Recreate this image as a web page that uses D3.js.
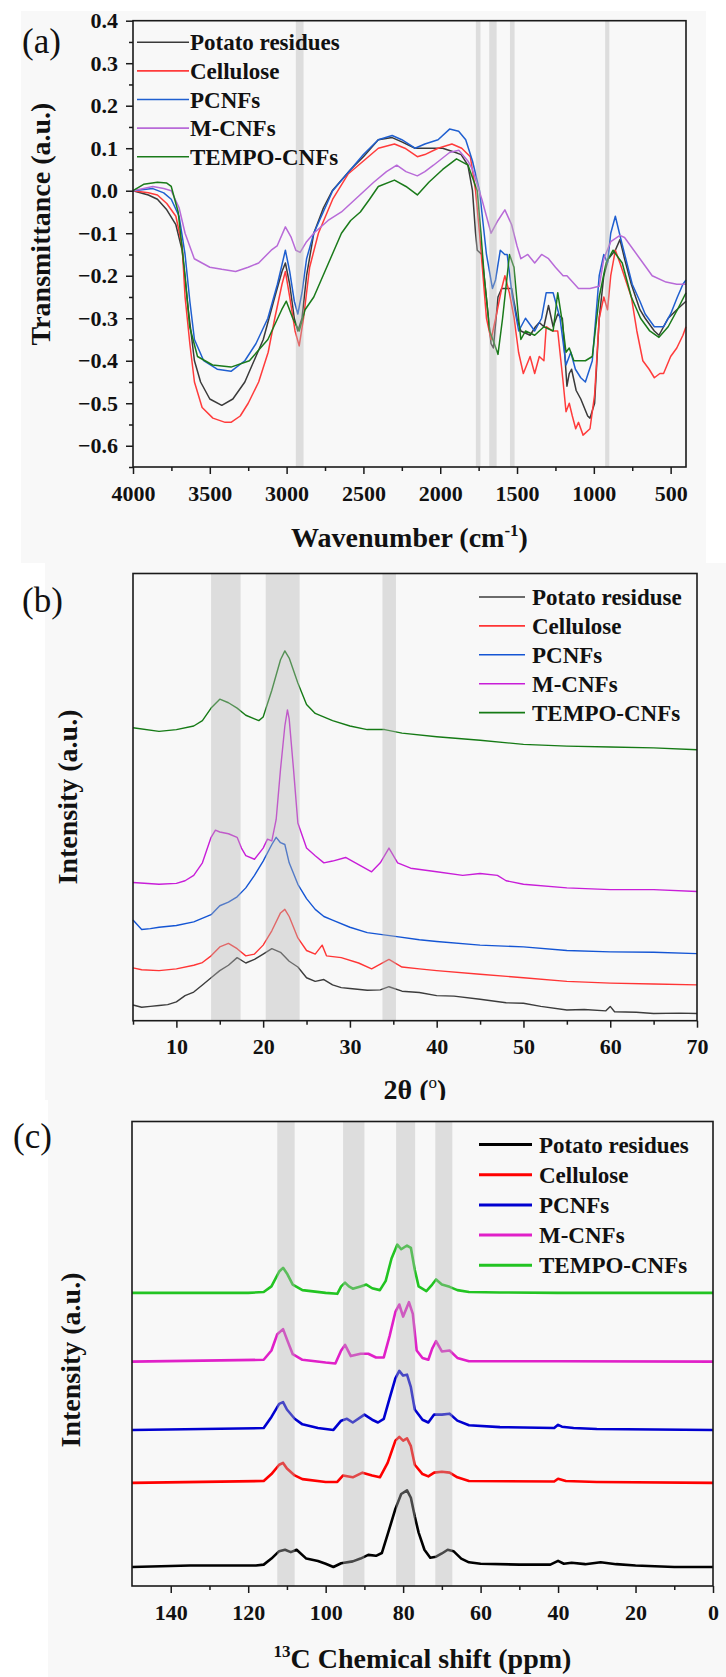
<!DOCTYPE html>
<html>
<head>
<meta charset="utf-8">
<script src="https://cdn.jsdelivr.net/npm/d3@7"></script>
<style>
  body { margin: 0; background: #fff; }
  svg { display: block; }
  text { font-family: "Liberation Serif", "Times New Roman", serif; }
</style>
</head>
<body>
<div id="chart"></div>
<script>
// legend names
var namesA = ['Potato residues', 'Cellulose', 'PCNFs', 'M-CNFs', 'TEMPO-CNFs'];
var namesB = ['Potato residuse', 'Cellulose', 'PCNFs', 'M-CNFs', 'TEMPO-CNFs'];
var namesC = ['Potato residues', 'Cellulose', 'PCNFs', 'M-CNFs', 'TEMPO-CNFs'];

// (a) FTIR, [wavenumber, transmittance]
var ftirPotato = [[4000,0],[3900,-0.01],[3841,-0.02],[3780,-0.045],[3721,-0.08],[3680,-0.14],[3640,-0.28],[3600,-0.4],[3560,-0.45],[3500,-0.49],[3422,-0.505],[3350,-0.49],[3272,-0.45],[3200,-0.39],[3152,-0.35],[3077,-0.25],[3030,-0.19],[3008,-0.17],[2980,-0.22],[2950,-0.3],[2927,-0.33],[2900,-0.3],[2870,-0.2],[2823,-0.1],[2760,-0.04],[2703,0.0],[2583,0.05],[2500,0.08],[2403,0.12],[2313,0.125],[2250,0.115],[2164,0.1],[2100,0.1],[1984,0.1],[1900,0.09],[1864,0.085],[1820,0.06],[1790,0.0],[1770,-0.1],[1759,-0.14],[1729,-0.15],[1700,-0.25],[1669,-0.36],[1654,-0.37],[1624,-0.25],[1600,-0.23],[1579,-0.23],[1535,-0.23],[1500,-0.3],[1475,-0.33],[1415,-0.34],[1380,-0.32],[1355,-0.31],[1325,-0.32],[1295,-0.27],[1265,-0.32],[1235,-0.29],[1205,-0.3],[1175,-0.46],[1160,-0.43],[1145,-0.42],[1115,-0.47],[1085,-0.49],[1040,-0.53],[1025,-0.535],[995,-0.5],[965,-0.3],[935,-0.2],[905,-0.16],[860,-0.14],[830,-0.115],[800,-0.16],[756,-0.22],[700,-0.28],[666,-0.3],[606,-0.33],[576,-0.34],[516,-0.3],[460,-0.28],[400,-0.26]];
var ftirCellulose = [[4000,0],[3900,-0.005],[3841,-0.01],[3780,-0.03],[3721,-0.06],[3680,-0.13],[3661,-0.25],[3630,-0.36],[3600,-0.45],[3550,-0.51],[3480,-0.535],[3400,-0.545],[3362,-0.545],[3302,-0.53],[3250,-0.5],[3182,-0.45],[3120,-0.38],[3077,-0.3],[3030,-0.22],[3008,-0.19],[2980,-0.25],[2945,-0.33],[2918,-0.365],[2890,-0.3],[2850,-0.18],[2793,-0.1],[2700,-0.02],[2598,0.04],[2500,0.07],[2403,0.1],[2298,0.11],[2230,0.1],[2149,0.08],[2100,0.085],[2014,0.1],[1924,0.11],[1860,0.1],[1804,0.08],[1770,0.0],[1744,-0.1],[1699,-0.3],[1669,-0.35],[1639,-0.3],[1600,-0.23],[1579,-0.2],[1550,-0.24],[1519,-0.3],[1490,-0.38],[1459,-0.43],[1415,-0.39],[1385,-0.43],[1355,-0.39],[1325,-0.4],[1310,-0.32],[1270,-0.33],[1235,-0.33],[1200,-0.45],[1181,-0.52],[1160,-0.5],[1140,-0.53],[1118,-0.56],[1100,-0.545],[1070,-0.575],[1025,-0.56],[995,-0.48],[965,-0.3],[935,-0.25],[911,-0.28],[890,-0.2],[860,-0.14],[830,-0.17],[756,-0.25],[720,-0.33],[681,-0.4],[640,-0.42],[606,-0.44],[570,-0.43],[546,-0.43],[500,-0.39],[460,-0.37],[420,-0.34],[400,-0.32]];
var ftirPCNF = [[4000,0],[3871,0.005],[3800,-0.005],[3751,-0.02],[3700,-0.06],[3661,-0.15],[3630,-0.26],[3600,-0.35],[3540,-0.4],[3452,-0.42],[3362,-0.425],[3272,-0.4],[3200,-0.36],[3122,-0.3],[3060,-0.22],[3008,-0.14],[2980,-0.19],[2950,-0.26],[2927,-0.29],[2900,-0.24],[2870,-0.16],[2823,-0.1],[2700,0.0],[2583,0.05],[2500,0.085],[2403,0.12],[2313,0.13],[2250,0.12],[2164,0.1],[2100,0.11],[2014,0.12],[1939,0.145],[1880,0.14],[1834,0.12],[1790,0.07],[1744,0.0],[1699,-0.15],[1660,-0.23],[1640,-0.21],[1609,-0.14],[1580,-0.15],[1564,-0.15],[1530,-0.25],[1489,-0.33],[1445,-0.3],[1385,-0.33],[1340,-0.3],[1310,-0.24],[1265,-0.24],[1220,-0.3],[1181,-0.41],[1150,-0.38],[1120,-0.42],[1085,-0.44],[1055,-0.45],[1010,-0.4],[965,-0.2],[935,-0.15],[911,-0.17],[890,-0.1],[860,-0.06],[820,-0.12],[750,-0.22],[700,-0.26],[666,-0.29],[606,-0.32],[546,-0.32],[500,-0.29],[456,-0.25],[420,-0.22],[400,-0.21]];
var ftirMCNF = [[4000,0],[3871,0.01],[3800,0.005],[3751,0.0],[3700,-0.04],[3661,-0.1],[3601,-0.16],[3500,-0.18],[3422,-0.185],[3332,-0.19],[3250,-0.18],[3182,-0.17],[3100,-0.14],[3062,-0.13],[3008,-0.085],[2970,-0.11],[2940,-0.14],[2912,-0.145],[2870,-0.12],[2823,-0.1],[2730,-0.07],[2643,-0.05],[2523,-0.01],[2433,0.02],[2350,0.045],[2283,0.06],[2223,0.045],[2149,0.035],[2100,0.045],[2044,0.06],[1939,0.09],[1879,0.095],[1820,0.07],[1790,0.05],[1729,-0.02],[1669,-0.1],[1624,-0.07],[1579,-0.045],[1535,-0.08],[1500,-0.13],[1475,-0.16],[1430,-0.15],[1385,-0.17],[1340,-0.15],[1295,-0.16],[1250,-0.18],[1200,-0.2],[1175,-0.2],[1100,-0.23],[1025,-0.23],[965,-0.225],[935,-0.16],[890,-0.12],[830,-0.105],[800,-0.11],[700,-0.16],[620,-0.2],[530,-0.215],[460,-0.22],[400,-0.22]];
var ftirTEMPO = [[4000,0],[3931,0.015],[3841,0.02],[3780,0.018],[3751,0.01],[3706,-0.05],[3661,-0.2],[3631,-0.32],[3580,-0.39],[3482,-0.41],[3362,-0.415],[3242,-0.4],[3122,-0.35],[3032,-0.28],[3002,-0.26],[2960,-0.3],[2918,-0.33],[2880,-0.28],[2823,-0.25],[2763,-0.2],[2703,-0.15],[2643,-0.1],[2583,-0.07],[2520,-0.05],[2460,-0.02],[2403,0.01],[2298,0.025],[2223,0.01],[2149,-0.01],[2074,0.02],[1984,0.05],[1894,0.075],[1819,0.06],[1759,0.0],[1735,-0.1],[1714,-0.2],[1678,-0.33],[1648,-0.36],[1624,-0.385],[1594,-0.3],[1549,-0.15],[1520,-0.18],[1490,-0.3],[1475,-0.35],[1445,-0.33],[1385,-0.34],[1325,-0.32],[1265,-0.33],[1235,-0.24],[1205,-0.31],[1181,-0.38],[1160,-0.37],[1130,-0.4],[1055,-0.4],[1010,-0.39],[965,-0.25],[920,-0.17],[875,-0.14],[815,-0.17],[756,-0.25],[696,-0.3],[636,-0.33],[576,-0.345],[516,-0.32],[456,-0.28],[400,-0.24]];
var ftirBands = [[2940,2890],[1768,1738],[1681,1633],[1546,1516],[926,899]];
var ftirXTicks = [4000,3500,3000,2500,2000,1500,1000,500];
var ftirYTicks = [-0.6,-0.5,-0.4,-0.3,-0.2,-0.1,0.0,0.1,0.2,0.3,0.4];

// (b) XRD, [2theta, intensity a.u.]
var xrdPotato = [[5,3.5],[6,3.0],[7,3.2],[8,3.4],[9,3.6],[10,4.2],[11,5.6],[12,6.4],[13,8.0],[14,9.6],[15,11.2],[16,12.4],[17,14.1],[18,12.9],[19,13.7],[20,14.9],[21,16.1],[22,15.3],[23,13.3],[24,12.0],[25,9.6],[26,8.8],[27,9.2],[28,8.0],[29,7.4],[30,7.2],[32,6.8],[33.5,6.9],[34.5,7.6],[36,6.6],[38,6.3],[40,5.6],[42,5.5],[45,4.8],[48,4.0],[50,3.9],[52,3.2],[55,2.4],[57,2.5],[59.5,2.2],[60,3.2],[60.5,2.0],[63,1.9],[65,1.6],[68,1.7],[70,1.6]];
var xrdCellulose = [[5,11.8],[6,11.4],[8,11.2],[10,11.6],[12,12.4],[13,13.0],[14,14.5],[15,16.5],[16,17.3],[17,16.1],[18,14.5],[19,14.9],[20,16.9],[21,20.1],[22,24.1],[22.5,24.9],[23,23.3],[24,18.5],[25,15.7],[26,14.9],[26.8,16.9],[27.3,14.5],[29,14.1],[31,12.9],[32.5,11.6],[34.5,13.7],[36,12.0],[38,11.6],[40,11.2],[45,10.4],[50,9.6],[55,8.8],[60,8.4],[65,8.2],[70,8.0]];
var xrdPCNF = [[5,22.5],[6,20.4],[7,20.6],[8,20.9],[10,21.3],[12,22.1],[14,23.7],[15,25.7],[16,26.5],[17,27.7],[18,29.7],[19,32.5],[20,35.7],[21,39.4],[21.5,41.0],[22,39.8],[22.5,39.4],[23,35.3],[24,30.5],[25,27.3],[26,24.9],[27,23.3],[28,22.5],[30,20.9],[32,19.7],[35,18.9],[38,18.1],[40,17.7],[45,16.9],[50,16.5],[55,15.7],[60,15.4],[65,15.3],[70,15.0]];
var xrdMCNF = [[5,30.9],[8,30.5],[10,30.7],[11,31.3],[12,32.5],[13,35.3],[14,41.0],[14.5,42.6],[15,42.2],[16,41.8],[17,41.0],[17.5,38.6],[18,36.9],[19,36.1],[20,38.6],[20.5,40.6],[21,40.2],[21.5,45.0],[22,56.2],[22.5,65.9],[22.8,69.5],[23,67.5],[23.5,56.2],[24,44.2],[25,38.6],[26,36.9],[27,35.3],[28,35.7],[29.5,36.5],[31,34.9],[32.5,33.3],[33.5,35.3],[34.5,38.6],[35.5,35.3],[37,34.1],[40,33.3],[43,32.5],[45,32.9],[47,32.5],[48,31.3],[50,30.5],[55,29.7],[60,29.3],[65,29.3],[70,28.9]];
var xrdTEMPO = [[5,65.5],[8,64.7],[10,65.1],[12,65.9],[13,67.1],[14,69.9],[15,71.9],[16,71.1],[17,69.9],[18,68.3],[19,67.5],[19.5,67.1],[20,67.9],[21,73.9],[22,80.7],[22.5,82.7],[23,81.1],[24,75.5],[25,70.7],[26,68.7],[28,67.1],[30,65.9],[32,65.1],[34,65.1],[36,64.3],[40,63.5],[45,62.7],[50,61.8],[55,61.4],[60,61.2],[65,61.0],[70,60.6]];
var xrdBands = [[14.0,17.4],[20.3,24.2],[33.75,35.3]];
var xrdXTicks = [10,20,30,40,50,60,70];

// (c) 13C NMR, [ppm, intensity a.u.]
var nmrPotato = [[150,4.1],[135,4.4],[118,4.4],[116,4.6],[114,5.9],[112,7.5],[110.5,7.8],[109,7.3],[107.5,7.8],[105,5.9],[102,5.4],[100,4.8],[98,4.1],[96,4.9],[93,5.3],[91,5.9],[89,6.7],[87,6.5],[85.5,7.1],[84,11.1],[82,16.6],[80.5,19.8],[79,20.6],[78,19.0],[77,15.0],[76,11.5],[74.5,7.8],[73,6.1],[71.5,6.3],[70,7.0],[68.5,7.8],[67,7.5],[65,5.9],[63,5.1],[60,4.8],[50,4.6],[42,4.6],[40,5.4],[38.5,4.8],[36.5,5.0],[33,4.7],[29,5.1],[25,4.7],[20,4.4],[10,4.1],[0,4.1]];
var nmrCellulose = [[150,22.2],[116,22.6],[114,24.1],[112,26.1],[111,26.5],[110,25.3],[108,23.8],[106,23.0],[100,22.4],[97,22.4],[95.5,23.8],[93,23.4],[90.5,24.4],[88,23.8],[86,23.4],[84,26.5],[82,31.3],[81,32.1],[80,31.3],[79,31.8],[78,30.1],[77,26.1],[75,24.1],[73.5,23.6],[72,24.4],[70,24.6],[68,24.4],[66,23.4],[63,22.6],[41,22.5],[40,23.1],[38,22.6],[30,22.4],[0,22.2]];
var nmrPCNF = [[150,33.6],[116,34.0],[114,36.4],[112,39.2],[111,39.6],[110,38.0],[108,36.0],[106,34.8],[102,34.0],[98,33.6],[96,35.6],[94.5,36.0],[93,35.2],[90,36.9],[88,35.8],[86.5,35.2],[85,36.0],[83.5,40.4],[82,44.7],[81,46.3],[80,45.3],[79,45.5],[78,42.8],[77,38.0],[75,35.8],[73.5,35.2],[72,36.9],[70,36.9],[68,37.1],[66,35.6],[63,34.6],[55,34.2],[41,34.0],[40,34.7],[39,34.3],[36,34.0],[30,33.8],[0,33.6]];
var nmrMCNF = [[150,48.3],[116,48.7],[114,50.7],[112.5,54.2],[111,55.3],[110,53.1],[108.5,49.9],[106,48.7],[100,48.1],[97.5,47.9],[96,50.7],[95,51.9],[93.5,49.5],[91,50.0],[89,50.0],[87,49.2],[85,49.2],[83.5,53.8],[82,59.0],[81,60.6],[80,58.0],[78.5,61.1],[77.5,58.6],[76.5,50.7],[75,49.1],[73.5,48.7],[72.5,51.1],[71.5,52.7],[70,50.5],[68,50.7],[66,49.1],[63,48.4],[40,48.4],[0,48.3]];
var nmrTEMPO = [[150,63.1],[120,63.1],[116,63.3],[114,64.5],[112,67.7],[111,68.5],[110,67.3],[108.5,64.9],[106,63.7],[100,63.1],[97,62.9],[96,64.5],[95,65.3],[94,64.5],[93,64.0],[91,64.5],[89.5,64.9],[88,64.1],[86,63.7],[84.5,65.7],[83,70.5],[81.5,73.5],[80.5,72.5],[79,73.3],[78,72.8],[77,68.1],[76,64.5],[74,63.5],[72.5,64.9],[71.5,66.0],[70,64.9],[68,64.4],[66,63.7],[63,63.3],[55,63.2],[40,63.1],[0,63.1]];
var nmrBands = [[112.5,108.0],[95.5,90.0],[81.8,76.9],[71.7,67.3]];
var nmrXTicks = [140,120,100,80,60,40,20,0];

var svg = d3.select('#chart').append('svg')
  .attr('width', 726)
  .attr('height', 1677);

svg.append('rect').attr('width', 726).attr('height', 1677).attr('fill', '#fff');

var drawPanel = function(p) {
  var g = svg.append('g');

  g.append('rect')
    .attr('x', p.bg[0]).attr('y', p.bg[1])
    .attr('width', p.bg[2]).attr('height', p.bg[3])
    .attr('fill', '#f8f8f8');

  var x = d3.scaleLinear().domain(p.xDomain).range([p.left, p.right]);
  var y = d3.scaleLinear().domain(p.yDomain).range([p.bottom, p.top]);

  var line = d3.line()
    .x(function(d) { return x(d[0]); })
    .y(function(d) { return y(d[1]); });

  g.selectAll('path.curve')
    .data(p.series)
    .enter().append('path')
    .attr('class', 'curve')
    .attr('d', function(d) { return line(d.pts); })
    .attr('fill', 'none')
    .attr('stroke', function(d) { return d.color; })
    .attr('stroke-width', p.lineWidth)
    .attr('stroke-linejoin', 'round');

  // shaded bands sit on top of the curves, like the original
  g.selectAll('rect.band')
    .data(p.bands)
    .enter().append('rect')
    .attr('class', 'band')
    .attr('x', function(d) { return Math.min(x(d[0]), x(d[1])); })
    .attr('width', function(d) { return Math.abs(x(d[1]) - x(d[0])); })
    .attr('y', p.top)
    .attr('height', p.bottom - p.top)
    .attr('fill', '#b4b4b4')
    .attr('opacity', 0.4);

  // axes
  var xAxis = d3.axisBottom(x).tickValues(p.xTicks).tickSize(7).tickPadding(11).tickFormat(d3.format('d'));
  var xa = g.append('g').attr('transform', 'translate(0,' + p.bottom + ')').call(xAxis);
  var xm = g.append('g').attr('transform', 'translate(0,' + p.bottom + ')')
    .call(d3.axisBottom(x).tickValues(p.xMinor).tickSize(4).tickFormat(''));
  var axes = [xa, xm];

  if (p.yTicks) {
    var ya = g.append('g').attr('transform', 'translate(' + p.left + ',0)')
      .call(d3.axisLeft(y).tickValues(p.yTicks).tickSize(7).tickPadding(8).tickFormat(d3.format('.1f')));
    var ym = g.append('g').attr('transform', 'translate(' + p.left + ',0)')
      .call(d3.axisLeft(y).tickValues(p.yMinor).tickSize(4).tickFormat(''));
    axes.push(ya, ym);
  }

  axes.forEach(function(a) {
    a.select('.domain').remove();
    a.selectAll('line').attr('stroke', '#1a1a1a').attr('stroke-width', 1.5);
    a.selectAll('text')
      .attr('fill', '#111')
      .style('font-family', '"Liberation Serif", serif')
      .style('font-weight', 'bold')
      .style('font-size', '22px');
  });

  g.append('rect')
    .attr('x', p.left).attr('y', p.top)
    .attr('width', p.right - p.left).attr('height', p.bottom - p.top)
    .attr('fill', 'none')
    .attr('stroke', '#1a1a1a')
    .attr('stroke-width', 1.6);

  // legend
  var lg = g.selectAll('g.leg')
    .data(p.series)
    .enter().append('g')
    .attr('class', 'leg')
    .attr('transform', function(d, i) { return 'translate(0,' + (p.legY + i * p.legStep) + ')'; });
  lg.append('line')
    .attr('x1', p.legX[0]).attr('x2', p.legX[1])
    .attr('stroke', function(d) { return d.color; })
    .attr('stroke-width', p.legWidth);
  lg.append('text')
    .attr('x', p.legX[2])
    .attr('dy', '0.35em')
    .attr('font-size', 23)
    .attr('font-weight', 'bold')
    .attr('fill', '#111')
    .text(function(d) { return d.name; });

  // panel letter
  g.append('text')
    .attr('x', p.letter[0]).attr('y', p.letter[1])
    .attr('font-size', 35)
    .attr('fill', '#111')
    .text(p.letter[2]);

  // y title
  g.append('text')
    .attr('transform', 'translate(' + p.yTitle[0] + ',' + p.yTitle[1] + ') rotate(-90)')
    .attr('text-anchor', 'middle')
    .attr('dy', '0.35em')
    .attr('font-size', 28)
    .attr('font-weight', 'bold')
    .attr('fill', '#111')
    .text(p.yTitle[2]);

  // x title
  var xt = g.append('text')
    .attr('x', (p.left + p.right) / 2)
    .attr('y', p.xTitleY)
    .attr('text-anchor', 'middle')
    .attr('font-size', 28)
    .attr('font-weight', 'bold')
    .attr('fill', '#111');
  p.xTitle(xt);
};

var colorsA = ['#3a3a3a', '#ff3b3b', '#1f5fd0', '#b86ad8', '#1a7a1a'];
var colorsB = ['#3c3c3c', '#ff3535', '#1455d4', '#c81ed8', '#157a15'];
var colorsC = ['#000000', '#ff0000', '#0000d0', '#e020c8', '#22c422'];

var pack = function(names, data, colors) {
  return names.map(function(n, i) { return { name: n, pts: data[i], color: colors[i] }; });
};

drawPanel({
  bg: [21, 11, 685, 552],
  left: 133, right: 686, top: 20.7, bottom: 467,
  xDomain: [4000, 400], yDomain: [-0.65, 0.4],
  series: pack(namesA, [ftirPotato, ftirCellulose, ftirPCNF, ftirMCNF, ftirTEMPO], colorsA),
  lineWidth: 1.5,
  bands: ftirBands,
  xTicks: ftirXTicks,
  xMinor: d3.range(3750, 400, -500),
  yTicks: ftirYTicks,
  yMinor: d3.range(-0.65, 0.4, 0.1),
  legX: [137, 189, 190], legY: 42.3, legStep: 28.6, legWidth: 1.6,
  letter: [22, 53, '(a)'],
  yTitle: [40, 224, 'Transmittance (a.u.)'],
  xTitleY: 547,
  xTitle: function(t) {
    t.append('tspan').text('Wavenumber (cm');
    t.append('tspan').attr('dy', -11).attr('font-size', 17).text('-1');
    t.append('tspan').attr('dy', 11).text(')');
  }
});

drawPanel({
  bg: [45, 563, 681, 537],
  left: 133, right: 697, top: 573.5, bottom: 1020.7,
  xDomain: [5, 70], yDomain: [0, 100],
  series: pack(namesB, [xrdPotato, xrdCellulose, xrdPCNF, xrdMCNF, xrdTEMPO], colorsB),
  lineWidth: 1.4,
  bands: xrdBands,
  xTicks: xrdXTicks,
  xMinor: d3.range(5, 70, 10),
  yTicks: null,
  legX: [479, 525, 532], legY: 597, legStep: 28.9, legWidth: 1.6,
  letter: [22, 612, '(b)'],
  yTitle: [67, 797, 'Intensity (a.u.)'],
  xTitleY: 1099,
  xTitle: function(t) {
    t.append('tspan').text('2θ (');
    t.append('tspan').attr('dy', -11).attr('font-size', 17).attr('font-weight', 'normal').text('o');
    t.append('tspan').attr('dy', 11).text(')');
  }
});

drawPanel({
  bg: [48, 1100, 678, 577],
  left: 132, right: 713, top: 1121.5, bottom: 1586,
  xDomain: [150, 0], yDomain: [0, 100],
  series: pack(namesC, [nmrPotato, nmrCellulose, nmrPCNF, nmrMCNF, nmrTEMPO], colorsC),
  lineWidth: 2.6,
  bands: nmrBands,
  xTicks: nmrXTicks,
  xMinor: d3.range(130, 0, -20),
  yTicks: null,
  legX: [479, 532, 539], legY: 1144.5, legStep: 30.2, legWidth: 3,
  letter: [13, 1148, '(c)'],
  yTitle: [70, 1360, 'Intensity (a.u.)'],
  xTitleY: 1668,
  xTitle: function(t) {
    t.append('tspan').attr('dy', -11).attr('font-size', 17).text('13');
    t.append('tspan').attr('dy', 11).text('C Chemical shift (ppm)');
  }
});
</script>
</body>
</html>
